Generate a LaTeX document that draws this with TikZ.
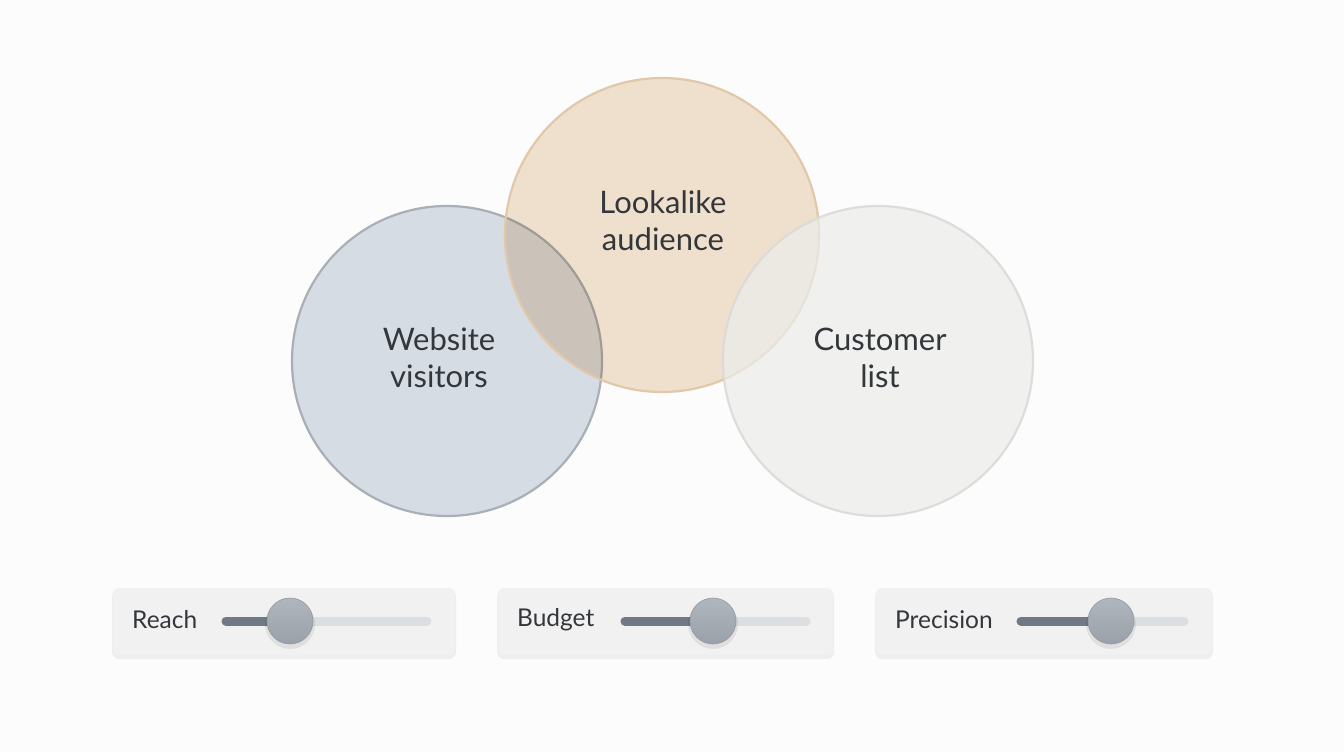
\documentclass[tikz,border=0pt]{standalone}
\usepackage{fontspec}
\setmainfont{Lato}
\definecolor{bgc}{HTML}{FCFCFC}
\definecolor{txt}{HTML}{33363A}
\definecolor{webfill}{HTML}{D6DCE4}
\definecolor{webline}{HTML}{A8AFB7}
\definecolor{lookfill}{HTML}{F2E3D0}
\definecolor{lookline}{HTML}{E0C8A8}
\definecolor{custfill}{HTML}{ECECEB}
\definecolor{custline}{HTML}{DADAD8}
\definecolor{panelc}{HTML}{F1F1F2}
\definecolor{shadc}{HTML}{E9E9EA}
\definecolor{trackon}{HTML}{6F7A86}
\definecolor{trackoff}{HTML}{DCDFE2}
\definecolor{knobc}{HTML}{A2A9B2}
\begin{document}
\begin{tikzpicture}[x=1pt,y=-1pt,
  venn/.style={circle,minimum size=310pt,inner sep=0pt,line width=2.2pt},
  vtext/.style={font=\fontsize{31}{37}\selectfont,text=txt,align=center},
  panel/.style={rounded corners=6pt,fill=panelc,draw=none},
  pshadow/.style={rounded corners=7pt,fill=shadc,draw=none,fill opacity=0.7},
  lbl/.style={anchor=west,font=\fontsize{24.5}{28}\selectfont,text=txt,inner sep=0pt},
  trk/.style={line width=9pt,line cap=round},
  knob/.style={circle,minimum size=46pt,inner sep=0pt,top color=knobc!85!white,bottom color=knobc!95!black,draw=knobc!90!black,line width=0.6pt},
  kshadow/.style={circle,minimum size=50pt,inner sep=0pt,fill=black,fill opacity=0.07,draw=none}]
\useasboundingbox[fill=bgc] (0,0) rectangle (1344,752);
% circles
\node[venn,fill=webfill,draw=webline] (web) at (447,361) {};
\begin{scope}[blend mode=multiply]
\node[venn,fill=lookfill,minimum size=314pt] (look) at (662,235) {};
\end{scope}
\draw[lookline,line width=2.2pt] (look.center) circle[radius=157pt];
\node[venn,fill=custfill,draw=custline,fill opacity=0.72,draw opacity=0.9] (cust) at (878,361) {};
\node[vtext] (tweb) at (439,358) {Website\\visitors};
\node[vtext] (tlook) at (663,221) {Lookalike\\audience};
\node[vtext] (tcust) at (880,358) {Customer\\list};
% panels
\path[pshadow] (112,590) rectangle (456,659);
\path[pshadow] (497,590) rectangle (834,659);
\path[pshadow] (875,590) rectangle (1213,659);
\path[panel] (113,588) rectangle (455,655);
\path[panel] (498,588) rectangle (833,655);
\path[panel] (876,588) rectangle (1212,655);
\node[lbl] (l1) at (132,620) {Reach};
\node[lbl] (l2) at (517,620) {Budget};
\node[lbl] (l3) at (895,620) {Precision};
% tracks
\coordinate (a1) at (226,621); \coordinate (b1) at (427,621);
\coordinate (a2) at (625,621); \coordinate (b2) at (806,621);
\coordinate (a3) at (1021,621); \coordinate (b3) at (1184,621);
\draw[trk,trackoff] (a1) -- (b1);
\draw[trk,trackoff] (a2) -- (b2);
\draw[trk,trackoff] (a3) -- (b3);
\draw[trk,trackon] (a1) -- (290,621);
\draw[trk,trackon] (a2) -- (713,621);
\draw[trk,trackon] (a3) -- (1111,621);
\node[kshadow] (s1) at (290,624) {};
\node[kshadow] (s2) at (713,624) {};
\node[kshadow] (s3) at (1111,624) {};
\node[knob] (k1) at (290,621) {};
\node[knob] (k2) at (713,621) {};
\node[knob] (k3) at (1111,621) {};
\end{tikzpicture}
\end{document}
